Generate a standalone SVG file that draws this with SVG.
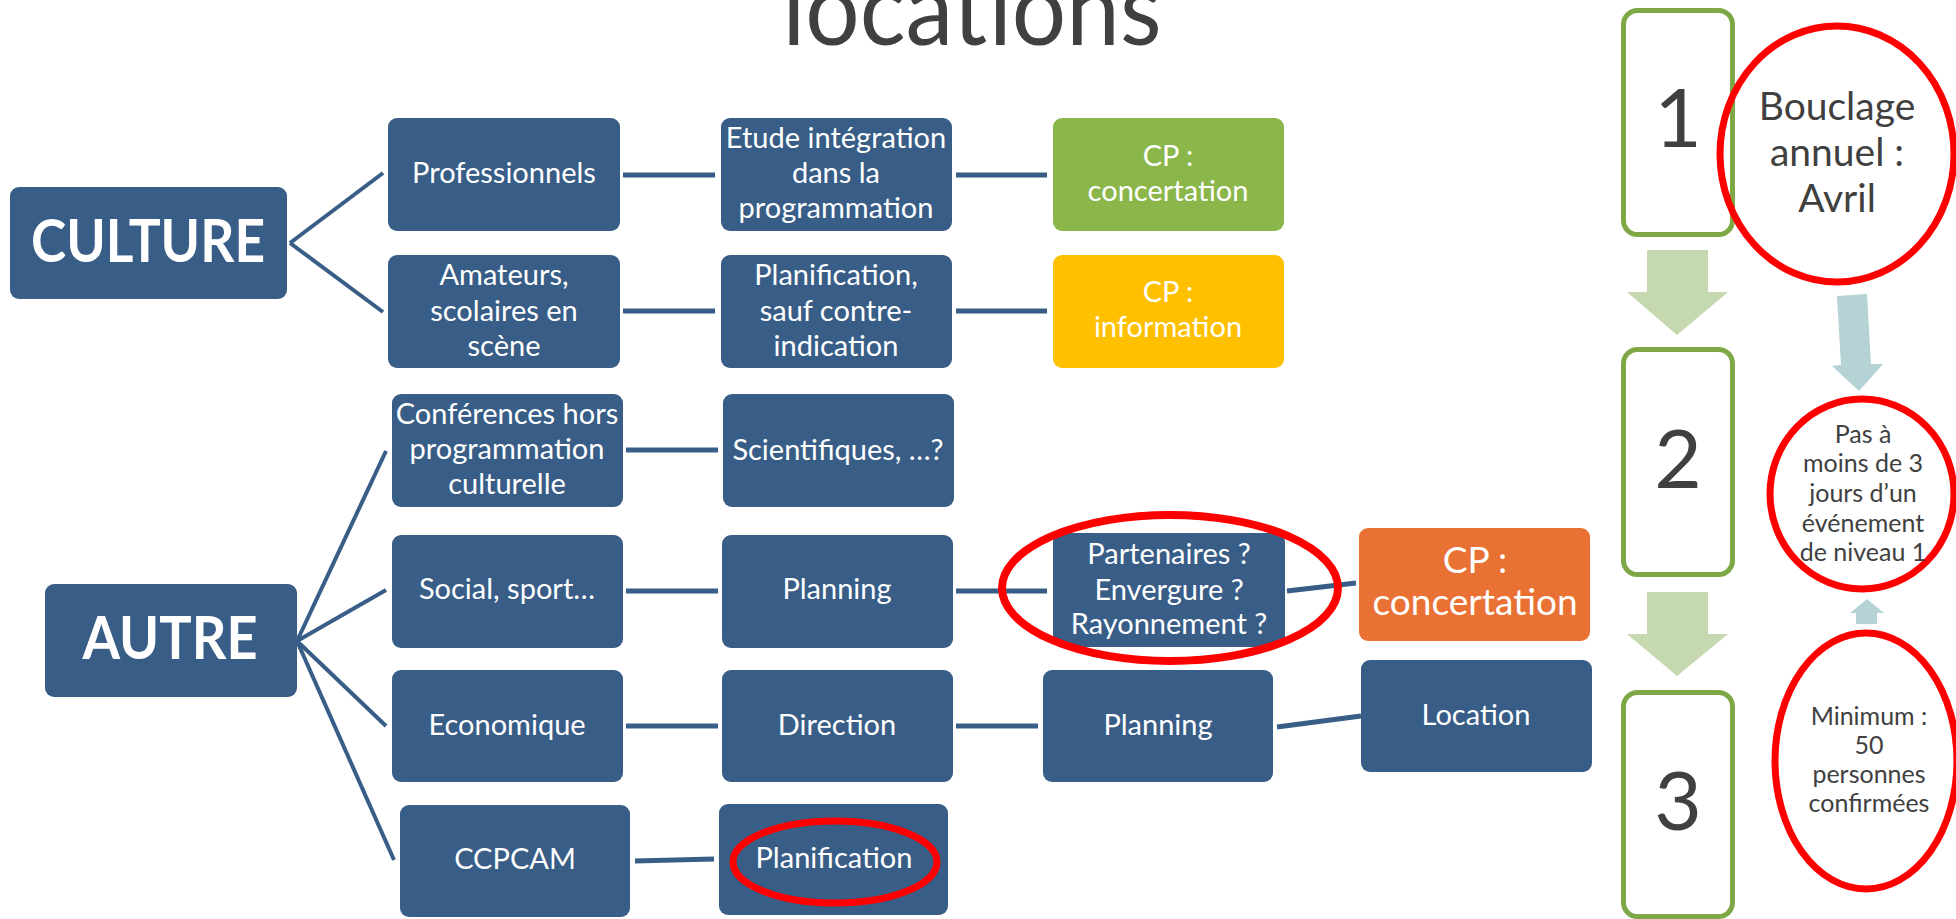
<svg xmlns="http://www.w3.org/2000/svg" width="1956" height="919" viewBox="0 0 1956 919">
<style>
.b{fill:#385D87;}
.t{font-family:Lato,"Liberation Sans",sans-serif;font-size:29px;fill:#FFFFFF;text-anchor:middle;}
.big{font-family:Lato,"Liberation Sans",sans-serif;font-size:60px;font-weight:bold;fill:#FFFFFF;text-anchor:middle;}
.g{font-family:Lato,"Liberation Sans",sans-serif;fill:#404040;text-anchor:middle;}
.c{stroke:#385D87;stroke-width:5;fill:none;}
.d{stroke:#385D87;stroke-width:4;fill:none;}
.red{fill:none;stroke:#FF0000;stroke-width:7;}
.step{fill:none;stroke:#7EA845;stroke-width:5;}
</style>
<rect width="1956" height="919" fill="#FFFFFF"/>
<text x="972" y="45" class="g" style="font-size:102px;font-weight:400;" fill="#444649" textLength="379" lengthAdjust="spacingAndGlyphs">locations</text>

<g id="connectors">
<line class="d" x1="290" y1="243" x2="383" y2="173"/>
<line class="d" x1="290" y1="243" x2="383" y2="312"/>
<line class="d" x1="297" y1="641" x2="386" y2="451"/>
<line class="d" x1="297" y1="641" x2="386" y2="590"/>
<line class="d" x1="297" y1="641" x2="386" y2="726"/>
<line class="d" x1="297" y1="641" x2="394" y2="860"/>
<line class="c" x1="623" y1="175" x2="715" y2="175"/>
<line class="c" x1="956" y1="175" x2="1047" y2="175"/>
<line class="c" x1="623" y1="311" x2="715" y2="311"/>
<line class="c" x1="956" y1="311" x2="1047" y2="311"/>
<line class="c" x1="626" y1="450" x2="718" y2="450"/>
<line class="c" x1="626" y1="591" x2="718" y2="591"/>
<line class="c" x1="956" y1="591" x2="1047" y2="591"/>
<line class="c" x1="1287" y1="591" x2="1356" y2="583"/>
<line class="c" x1="626" y1="726" x2="718" y2="726"/>
<line class="c" x1="956" y1="726" x2="1038" y2="726"/>
<line class="c" x1="1277" y1="727" x2="1361" y2="716"/>
<line class="c" x1="635" y1="861" x2="714" y2="859"/>
</g>

<g id="culture"><rect class="b" x="10" y="187" width="277" height="112" rx="9"/><text class="big" x="148" y="262" textLength="234" lengthAdjust="spacingAndGlyphs">CULTURE</text></g>
<g id="professionnels"><rect class="b" x="388" y="118" width="232" height="113" rx="9"/><text class="t" x="504" y="183">Professionnels</text></g>
<g id="etude"><rect class="b" x="721" y="118" width="231" height="113" rx="9"/><text class="t" x="836" y="148">Etude intégration</text><text class="t" x="836" y="183">dans la</text><text class="t" x="836" y="218">programmation</text></g>
<g id="cp-concertation-1"><rect x="1053" y="118" width="231" height="113" rx="9" fill="#8BB64A"/><text class="t" x="1168" y="166">CP :</text><text class="t" x="1168" y="201">concertation</text></g>
<g id="amateurs"><rect class="b" x="388" y="255" width="232" height="113" rx="9"/><text class="t" x="504" y="285">Amateurs,</text><text class="t" x="504" y="321">scolaires en</text><text class="t" x="504" y="356">scène</text></g>
<g id="planification-sauf"><rect class="b" x="721" y="255" width="231" height="113" rx="9"/><text class="t" x="836" y="285">Planification,</text><text class="t" x="836" y="321">sauf contre-</text><text class="t" x="836" y="356">indication</text></g>
<g id="cp-information"><rect x="1053" y="255" width="231" height="113" rx="9" fill="#FFC000"/><text class="t" x="1168" y="302">CP :</text><text class="t" x="1168" y="337">information</text></g>

<g id="autre"><rect class="b" x="45" y="584" width="252" height="113" rx="9"/><text class="big" x="170" y="659" textLength="175" lengthAdjust="spacingAndGlyphs">AUTRE</text></g>
<g id="conferences"><rect class="b" x="392" y="394" width="231" height="113" rx="9"/><text class="t" x="507" y="424">Conférences hors</text><text class="t" x="507" y="459">programmation</text><text class="t" x="507" y="494">culturelle</text></g>
<g id="scientifiques"><rect class="b" x="723" y="394" width="231" height="113" rx="9"/><text class="t" x="838" y="460">Scientifiques, …?</text></g>
<g id="social"><rect class="b" x="392" y="535" width="231" height="113" rx="9"/><text class="t" x="507" y="599">Social, sport…</text></g>
<g id="planning-1"><rect class="b" x="722" y="535" width="231" height="113" rx="9"/><text class="t" x="837" y="599">Planning</text></g>
<g id="partenaires"><rect class="b" x="1053" y="533" width="232" height="114" rx="9"/><text class="t" x="1169" y="564">Partenaires ?</text><text class="t" x="1169" y="600">Envergure ?</text><text class="t" x="1169" y="634">Rayonnement ?</text></g>
<g id="cp-concertation-2"><rect x="1359" y="528" width="231" height="113" rx="9" fill="#EA7134"/><text class="t" x="1475" y="573" style="font-size:37px">CP :</text><text class="t" x="1475" y="615" style="font-size:37px">concertation</text></g>
<g id="economique"><rect class="b" x="392" y="670" width="231" height="112" rx="9"/><text class="t" x="507" y="735">Economique</text></g>
<g id="direction"><rect class="b" x="722" y="670" width="231" height="112" rx="9"/><text class="t" x="837" y="735">Direction</text></g>
<g id="planning-2"><rect class="b" x="1043" y="670" width="230" height="112" rx="9"/><text class="t" x="1158" y="735">Planning</text></g>
<g id="location"><rect class="b" x="1361" y="660" width="231" height="112" rx="9"/><text class="t" x="1476" y="725">Location</text></g>
<g id="ccpcam"><rect class="b" x="400" y="805" width="230" height="112" rx="9"/><text class="t" x="515" y="869">CCPCAM</text></g>
<g id="planification"><rect class="b" x="719" y="804" width="229" height="111" rx="9"/><text class="t" x="834" y="868">Planification</text></g>

<g id="ring-partenaires"><ellipse class="red" cx="1170" cy="588" rx="168" ry="73" style="stroke-width:8"/></g>
<g id="ring-planification"><ellipse class="red" cx="835" cy="862" rx="102" ry="41"/></g>

<g id="step1"><rect class="step" x="1623.5" y="10.5" width="109" height="224" rx="14"/><text class="g" x="1678" y="147" style="font-size:82px">1</text></g>
<g id="arrow1"><polygon fill="#C5D8B0" points="1647,250 1708,250 1708,292 1728,292 1677,335 1627,292 1647,292"/></g>
<g id="step2"><rect class="step" x="1623.5" y="349.5" width="109" height="225" rx="14"/><text class="g" x="1678" y="488" style="font-size:82px">2</text></g>
<g id="arrow2"><polygon fill="#C5D8B0" points="1647,592 1708,592 1708,634 1728,634 1677,676 1627,634 1647,634"/></g>
<g id="step3"><rect class="step" x="1623.5" y="692.5" width="109" height="224" rx="14"/><text class="g" x="1678" y="830" style="font-size:82px">3</text></g>

<g id="bouclage"><ellipse class="red" cx="1837" cy="154" rx="117" ry="128"/><text class="g" x="1837" y="120" style="font-size:39px">Bouclage</text><text class="g" x="1837" y="166" style="font-size:39px">annuel :</text><text class="g" x="1837" y="212" style="font-size:39px">Avril</text></g>
<g id="arrow-teal-down"><polygon fill="#B5D3D5" points="1837,296 1867,294 1871,364 1883,364 1859,391 1832,366 1841,365"/></g>
<g id="pas-a"><ellipse class="red" cx="1862" cy="494" rx="92" ry="95"/><text class="g" x="1863" y="443" style="font-size:25px">Pas à</text><text class="g" x="1863" y="472" style="font-size:25px">moins de 3</text><text class="g" x="1863" y="502" style="font-size:25px">jours d’un</text><text class="g" x="1863" y="532" style="font-size:25px">événement</text><text class="g" x="1863" y="561" style="font-size:25px">de niveau 1</text></g>
<g id="arrow-teal-up"><polygon fill="#B5D3D5" points="1856,624 1856,613 1850,613 1867,599 1884,613 1877,613 1877,624"/></g>
<g id="minimum"><ellipse class="red" cx="1866" cy="761" rx="91" ry="128"/><text class="g" x="1869" y="725" style="font-size:25px">Minimum :</text><text class="g" x="1869" y="754" style="font-size:25px">50</text><text class="g" x="1869" y="783" style="font-size:25px">personnes</text><text class="g" x="1869" y="812" style="font-size:25px">confirmées</text></g>
</svg>
